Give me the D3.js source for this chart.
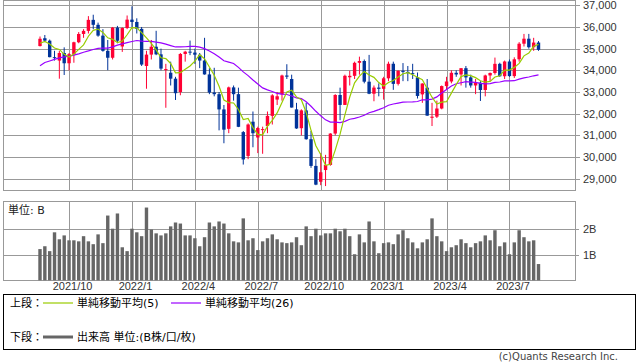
<!DOCTYPE html>
<html>
<head>
<meta charset="utf-8">
<script src="https://cdn.jsdelivr.net/npm/d3@7/dist/d3.min.js"></script>
<style>
  body { margin: 0; background: #fff; }
  svg { display: block; font-family: "DejaVu Sans", "Noto Sans CJK JP", sans-serif; }
</style>
</head>
<body>
<svg id="chart" width="638" height="362"></svg>
<script>
// weekly bars, first week starts Mon 2021/8/23
const firstWeek = new Date(2021, 7, 23)

const opens = [35120, 35480, 35369, 34608, 34450, 34800, 34326, 34746, 35295, 35677,
  35820, 36328, 36100, 35601, 34899, 34580, 35971, 35100, 35951, 36338,
  36231, 35912, 34200, 34725, 35089, 34738, 34015, 33890, 33615, 33000,
  34754, 34861, 34818, 34721, 34451, 33811, 32977, 32899, 32197, 31300,
  33213, 32900, 31150, 30050, 31630, 30900, 31250, 31430, 31899, 32650,
  32890, 33761, 33600, 32200, 31330, 32150, 30822, 29590, 28860, 29400,
  29635, 31083, 32862, 32403, 33680, 33746, 34347, 34430, 33476, 32920,
  33203, 33147, 33631, 34303, 33375, 33978, 33926, 33869, 33680, 32890,
  33200, 31810, 31862, 32238, 33274, 33485, 33886, 33809, 34098, 33674,
  33301, 33427, 33093, 33763, 33877, 34299, 33727, 34408, 33734, 34509,
  35228, 35459, 35066, 35281]
const highs = [35560, 35630, 35420, 34900, 34900, 35060, 34800, 35320, 35765, 35900,
  36500, 36565, 36200, 35900, 35400, 36000, 36050, 35980, 36530, 36952,
  36400, 36000, 34900, 35400, 35824, 35000, 34300, 34400, 33700, 34800,
  34900, 35372, 35000, 34800, 35500, 34100, 34117, 33000, 32400, 33250,
  33300, 33200, 31200, 31550, 32100, 31400, 31400, 32100, 32900, 33000,
  33800, 34281, 33800, 32500, 32200, 32500, 31200, 29900, 30186, 30100,
  31100, 32900, 33200, 33800, 33980, 34400, 34630, 34500, 34712, 33300,
  33400, 33700, 34400, 34400, 34000, 34335, 34200, 34300, 33900, 33400,
  33600, 32500, 32600, 33300, 33700, 34000, 34000, 34100, 34200, 33800,
  33600, 33500, 33800, 33900, 34588, 34350, 34450, 34500, 34600, 35300,
  35680, 35680, 35500, 35350]
const lows = [35100, 35300, 34600, 34450, 33613, 33785, 34000, 34350, 35250, 35500,
  35700, 35900, 35550, 34860, 34006, 34500, 35250, 34850, 35900, 36000,
  35700, 34200, 33150, 34500, 34700, 34000, 32272, 33300, 32632, 32850,
  34400, 34700, 34300, 34100, 33800, 32900, 32800, 31230, 30635, 31100,
  32600, 31380, 29653, 29900, 30450, 30180, 30150, 31100, 31500, 32400,
  32600, 33600, 32280, 31300, 31000, 30800, 29500, 28700, 28700, 28660,
  29600, 31000, 31700, 32400, 33300, 33600, 33800, 33400, 32900, 32573,
  32800, 32650, 33500, 33100, 33300, 33500, 33500, 33600, 32700, 32500,
  31900, 31430, 31800, 32200, 33100, 33400, 33700, 33300, 33200, 33200,
  32900, 32586, 32800, 33500, 33800, 33700, 33600, 33700, 33650, 34400,
  35100, 35000, 34900, 34900]
const closes = [35456, 35369, 34608, 34584, 34798, 34326, 34746, 35295, 35677, 35820,
  36328, 36100, 35601, 34899, 34580, 35971, 35365, 35951, 36338, 36231,
  35912, 34265, 34725, 35089, 34738, 34079, 34059, 33615, 32944, 34754,
  34861, 34818, 34721, 34451, 33811, 32977, 32899, 32197, 31262, 33213,
  32900, 31393, 29888, 31501, 31097, 31338, 31289, 31899, 32845, 32803,
  33761, 33706, 32283, 31318, 32152, 30822, 29590, 28726, 29297, 29635,
  31083, 32862, 32403, 33748, 33746, 34347, 34430, 33476, 32920, 33203,
  33147, 33631, 34303, 33375, 33978, 33926, 33869, 33827, 32817, 33391,
  31910, 31862, 32238, 33274, 33485, 33886, 33809, 34098, 33674, 33301,
  33427, 33093, 33763, 33877, 34299, 33727, 34408, 33734, 34509, 35228,
  35459, 35066, 35281, 34946]
// closes of the 25 weeks before the first bar (needed for the averages)
const priorCloses = [31496, 32779, 32628, 33073, 33153, 33801, 34200, 34043, 33875, 34778,
  34382, 34208, 34529, 34756, 34480, 33290, 34433, 34786, 34870, 34688,
  35062, 34935, 35209, 35515, 35120]
// volume, billions of shares
const volumes = [1.21, 1.32, 1.13, 1.86, 1.59, 1.74, 1.55, 1.55, 1.51, 1.71,
  1.51, 1.40, 1.78, 1.44, 2.51, 2.00, 2.59, 1.28, 1.13, 2.00,
  1.86, 1.71, 2.82, 1.97, 1.82, 1.74, 1.82, 2.09, 2.24, 2.20,
  1.74, 1.74, 1.63, 1.32, 1.67, 2.24, 2.09, 2.28, 2.20, 1.82,
  1.51, 1.47, 2.40, 1.55, 1.63, 1.17, 1.51, 1.63, 1.78, 1.59,
  1.47, 1.44, 1.47, 1.67, 1.36, 2.09, 1.71, 2.00, 1.74, 1.82,
  1.82, 2.00, 1.90, 2.00, 1.71, 1.01, 1.78, 1.47, 2.28, 1.51,
  1.05, 1.44, 1.47, 1.40, 1.78, 1.94, 1.63, 1.47, 1.24, 1.47,
  1.59, 2.40, 1.71, 1.51, 1.13, 1.28, 1.36, 1.59, 1.44, 1.28,
  1.44, 1.51, 1.74, 1.55, 1.94, 1.32, 1.47, 1.01, 1.47, 1.94,
  1.67, 1.51, 1.55, 0.63]

const priceTicks = [29000, 30000, 31000, 32000, 33000, 34000, 35000, 36000, 37000]
const volumeTicks = [1, 2]
const volumeTickLabels = ['1B', '2B']
const dateTicks = ['2021/10', '2022/1', '2022/4', '2022/7', '2022/10', '2023/1', '2023/4', '2023/7']

const upColor = '#ff0033'
const downColor = '#003399'
const gridColor = '#999'

var weeks = closes.map((c, i) => d3.timeWeek.offset(firstWeek, i))
var tickDates = dateTicks.map(s => {
  var p = s.split('/')
  return d3.timeMonday.ceil(new Date(+p[0], +p[1] - 1, 1))
})

// simple moving averages over prior + visible closes
var allCloses = priorCloses.concat(closes)
function sma(n) {
  return closes.map((c, i) => {
    var end = i + priorCloses.length + 1
    return d3.mean(allCloses.slice(end - n, end))
  })
}
var ma5 = sma(5)
var ma26 = sma(26)

var svg = d3.select('#chart')

var left = 3, right = 575
var x = d3.scaleTime().domain([weeks[0], weeks[weeks.length - 1]]).range([40, 538.5])
var y = d3.scaleLinear().domain([29000, 37000]).range([178.7, 5.3])
var yv = d3.scaleLinear().domain([0, 2]).range([280.3, 228.7])

var pTop = 0.5, pBot = 190.5, vTop = 201.5, vBot = 280.5

// grid
var grid = svg.append('g').attr('stroke', gridColor).attr('stroke-width', 1)
priceTicks.forEach(t => {
  var yy = Math.round(y(t)) + 0.5
  grid.append('line').attr('x1', left).attr('x2', right + 5).attr('y1', yy).attr('y2', yy)
})
volumeTicks.forEach(t => {
  var yy = Math.round(yv(t)) + 0.5
  grid.append('line').attr('x1', left).attr('x2', right + 4).attr('y1', yy).attr('y2', yy)
})
tickDates.forEach(d => {
  var xx = Math.round(x(d)) + 0.5
  grid.append('line').attr('x1', xx).attr('x2', xx).attr('y1', pTop).attr('y2', pBot)
  grid.append('line').attr('x1', xx).attr('x2', xx).attr('y1', vTop).attr('y2', vBot)
})
// panel frames
grid.append('rect').attr('x', left + 0.5).attr('y', pTop).attr('width', right - left).attr('height', pBot - pTop).attr('fill', 'none')
grid.append('rect').attr('x', left + 0.5).attr('y', vTop).attr('width', right - left).attr('height', vBot - vTop).attr('fill', 'none')

// right axes
svg.append('g')
  .attr('transform', 'translate(' + (right + 5) + ',0)')
  .call(d3.axisRight(y).tickValues(priceTicks).tickFormat(d3.format(',')).tickSize(0).tickPadding(3))
  .call(g => g.select('.domain').remove())
  .selectAll('text').attr('fill', '#333').style('font-size', '11px').attr('font-family', null)

svg.append('g')
  .attr('transform', 'translate(' + (right + 5) + ',0)')
  .call(d3.axisRight(yv).tickValues(volumeTicks).tickFormat((d, i) => volumeTickLabels[i]).tickSize(0).tickPadding(3))
  .call(g => g.select('.domain').remove())
  .selectAll('text').attr('fill', '#333').style('font-size', '11px').attr('font-family', null)

// bottom date labels
svg.append('g')
  .attr('transform', 'translate(0,' + vBot + ')')
  .call(d3.axisBottom(x).tickValues(tickDates).tickFormat((d, i) => dateTicks[i]).tickSize(0).tickPadding(2))
  .call(g => g.select('.domain').remove())
  .selectAll('text').attr('fill', '#333').attr('dx', 3).style('font-size', '11px').attr('font-family', null)

// candles
var bw = 3.4
var candles = svg.append('g')
closes.forEach((c, i) => {
  var o = opens[i]
  var col = c >= o ? upColor : downColor
  var cx = x(weeks[i])
  candles.append('line')
    .attr('x1', cx).attr('x2', cx)
    .attr('y1', y(highs[i])).attr('y2', y(lows[i]))
    .attr('stroke', col).attr('stroke-width', 1)
  var top = y(Math.max(o, c)), bot = y(Math.min(o, c))
  candles.append('rect')
    .attr('x', cx - bw / 2).attr('y', top)
    .attr('width', bw).attr('height', Math.max(1, bot - top))
    .attr('fill', col)
})

// moving averages
var line = d3.line().x((d, i) => x(weeks[i])).y(d => y(d))
svg.append('path').datum(ma26).attr('d', line)
  .attr('fill', 'none').attr('stroke', '#9900ff').attr('stroke-width', 1.2)
svg.append('path').datum(ma5).attr('d', line)
  .attr('fill', 'none').attr('stroke', '#99cc00').attr('stroke-width', 1.2)

// volume bars
svg.append('g').selectAll('rect')
  .data(volumes)
  .enter()
  .append('rect')
  .attr('x', (d, i) => x(weeks[i]) - bw / 2)
  .attr('y', d => yv(d))
  .attr('width', bw)
  .attr('height', d => yv(0) - yv(d))
  .attr('fill', '#666')

svg.append('text').attr('x', 8).attr('y', 214).attr('font-size', 11).attr('fill', '#222').text('単位: B')

// legend box
var lg = svg.append('g')
lg.append('rect').attr('x', 3.5).attr('y', 294.5).attr('width', 632).attr('height', 55)
  .attr('fill', 'none').attr('stroke', '#000')
lg.append('text').attr('x', 10).attr('y', 307).attr('font-size', 11).text('上段：')
lg.append('line').attr('x1', 43).attr('x2', 73).attr('y1', 303).attr('y2', 303).attr('stroke', '#99cc00').attr('stroke-width', 1.2)
lg.append('text').attr('x', 77).attr('y', 307).attr('font-size', 11).text('単純移動平均(5)')
lg.append('line').attr('x1', 171).attr('x2', 201).attr('y1', 303).attr('y2', 303).attr('stroke', '#9900ff').attr('stroke-width', 1.2)
lg.append('text').attr('x', 205).attr('y', 307).attr('font-size', 11).text('単純移動平均(26)')
lg.append('text').attr('x', 10).attr('y', 341).attr('font-size', 11).text('下段：')
lg.append('line').attr('x1', 43).attr('x2', 73).attr('y1', 337).attr('y2', 337).attr('stroke', '#666').attr('stroke-width', 3)
lg.append('text').attr('x', 77).attr('y', 341).attr('font-size', 11).text('出来高 単位:(B株/口/枚)')

svg.append('text').attr('x', 618).attr('y', 360).attr('text-anchor', 'end')
  .attr('font-size', 10).attr('fill', '#444').text('(c)Quants Research Inc.')
</script>
</body>
</html>
